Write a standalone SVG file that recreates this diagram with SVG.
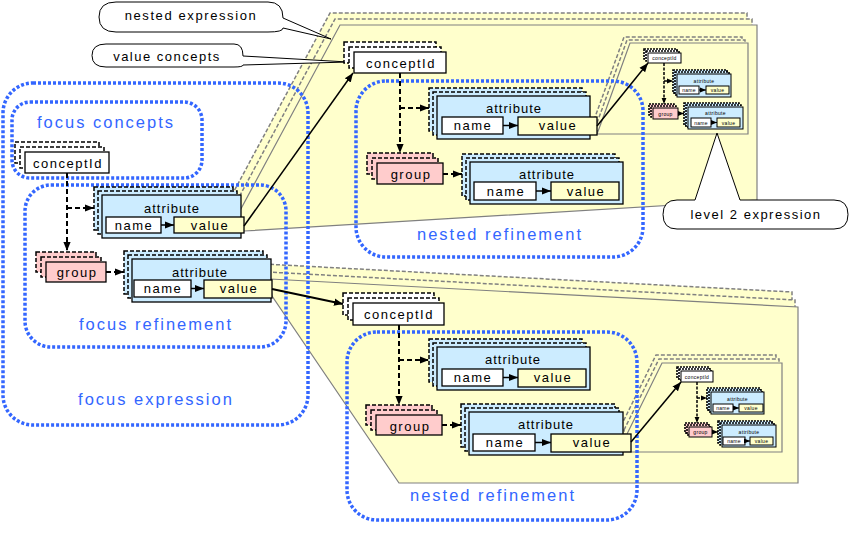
<svg xmlns="http://www.w3.org/2000/svg" width="864" height="549" viewBox="0 0 864 549">
<style>
.panel{fill:#FFFFCC;stroke:#808080;stroke-width:1.2}
.psh{fill:#FFFFCC;stroke:#808080;stroke-width:1.5;stroke-dasharray:4 2}
.blue{fill:none;stroke:#3366FF;stroke-width:3.5;stroke-dasharray:3 2}
.call{fill:#fff;stroke:#000;stroke-width:1}
.f{stroke:#000;stroke-width:1.3}
.sh{stroke:#000;stroke-width:1.5;stroke-dasharray:4 2}
.shs{stroke:#000;stroke-width:1.6;stroke-dasharray:2 1}
.attr{fill:#CCECFF}
.cid,.nm{fill:#fff}
.val{fill:#FFFFCC}
.grp{fill:#FFCCCC}
.t{font-family:"Liberation Sans",Arial,sans-serif;font-size:13px;letter-spacing:1.5px;fill:#000;text-anchor:middle}
.ta{font-family:"Liberation Sans",Arial,sans-serif;font-size:13px;letter-spacing:1px;fill:#000;text-anchor:middle}
.ts{font-family:"Liberation Sans",Arial,sans-serif;font-size:5px;letter-spacing:0.3px;fill:#000;text-anchor:middle}
.bt{font-family:"Liberation Sans",Arial,sans-serif;font-size:16.5px;letter-spacing:2px;fill:#3366FF;text-anchor:middle}
.dc{fill:none;stroke:#000;stroke-width:2;stroke-dasharray:5 3}
.dcs{fill:none;stroke:#000;stroke-width:1.5;stroke-dasharray:3 1.5}
.sc{fill:none;stroke:#000;stroke-width:1.5}
</style>
<defs>
<marker id="ah" viewBox="0 0 10 10" refX="10" refY="5" markerWidth="9" markerHeight="9" markerUnits="userSpaceOnUse" orient="auto"><path d="M0,1 L10,5 L0,9 Z" fill="#000"/></marker>
<marker id="ahs" viewBox="0 0 10 10" refX="10" refY="5" markerWidth="6" markerHeight="6" markerUnits="userSpaceOnUse" orient="auto"><path d="M0,1 L10,5 L0,9 Z" fill="#000"/></marker>
</defs>
<rect width="864" height="549" fill="#fff"/>

<g id="panels">
  <g id="nestedExprTop">
    <polygon class="psh" transform="translate(-10,-12)" points="236,218 340,25 757,25 757,200 244,231"/>
    <polygon class="psh" transform="translate(-5,-6)" points="236,218 340,25 757,25 757,200 244,231"/>
    <polygon class="panel" points="236,218 340,25 757,25 757,200 244,231"/>
  </g>
  <g id="nestedExprBottom">
    <polygon class="psh" transform="translate(-6,-15)" points="270,279 798,307 798,483 399,483 272,296"/>
    <polygon class="psh" transform="translate(-3,-7)" points="270,279 798,307 798,483 399,483 272,296"/>
    <polygon class="panel" points="270,279 798,307 798,483 399,483 272,296"/>
  </g>
  <g id="level2Top">
    <polygon class="psh" transform="translate(-6,-6)" points="600,126 630,43 748,43 748,134 597,134"/>
    <polygon class="psh" transform="translate(-3,-3)" points="600,126 630,43 748,43 748,134 597,134"/>
    <polygon class="panel" points="600,126 630,43 748,43 748,134 597,134"/>
  </g>
  <g id="level2Bottom">
    <polygon class="psh" transform="translate(-6,-8)" points="627,434 662,363 782,363 782,452 631,452"/>
    <polygon class="psh" transform="translate(-3,-4)" points="627,434 662,363 782,363 782,452 631,452"/>
    <polygon class="panel" points="627,434 662,363 782,363 782,452 631,452"/>
  </g>
</g>

<g id="callouts">
  <g id="calloutNested">
    <path class="call" d="M116,2 H268 Q283,2 283,18 L331,39 L283,28 Q283,32 268,32 H116 Q99,32 99,17 Q99,2 116,2 Z"/>
    <text class="t" x="191" y="20" style="letter-spacing:1.6px">nested expression</text>
  </g>
  <g id="calloutValue">
    <path class="call" d="M106,44 H234 Q243,44 243,56 L348,62 L243,65 Q243,67 234,67 H106 Q92,67 92,55.5 Q92,44 106,44 Z"/>
    <text class="t" x="167" y="61">value concepts</text>
  </g>
  <g id="calloutLevel2">
    <path class="call" d="M677,200 L695,200 L717,133 L740,200 L834,200 Q848,200 848,214.5 Q848,229 834,229 L677,229 Q663,229 663,214.5 Q663,200 677,200 Z"/>
    <text class="t" x="756" y="219">level 2 expression</text>
  </g>
</g>

<g id="regions">
  <rect id="focusExpression" class="blue" x="3" y="83" width="305" height="342" rx="30"/>
  <rect id="focusConcepts" class="blue" x="12" y="102" width="190" height="76" rx="18"/>
  <rect id="focusRefinement" class="blue" x="25" y="185" width="261" height="162" rx="26"/>
  <rect id="nestedRefinementTop" class="blue" x="356" y="81" width="287" height="176" rx="30"/>
  <rect id="nestedRefinementBottom" class="blue" x="347" y="332" width="290" height="188" rx="30"/>
  <text class="bt" x="106" y="128">focus concepts</text>
  <text class="bt" x="156" y="330">focus refinement</text>
  <text class="bt" x="156" y="405">focus expression</text>
  <text class="bt" x="500" y="240">nested refinement</text>
  <text class="bt" x="493" y="501">nested refinement</text>
</g>

<g id="cid0">
  <rect class="cid sh" x="15" y="142" width="84" height="21"/>
  <rect class="cid sh" x="20" y="147" width="84" height="21"/>
  <rect class="cid f" x="25" y="152" width="84" height="21"/>
  <text class="t" x="68" y="168">conceptId</text>
</g>
<g id="attr0a">
  <rect class="attr sh" x="94" y="187" width="139" height="43"/>
  <rect class="attr sh" x="98" y="191" width="139" height="43"/>
  <rect class="attr f" x="102" y="195" width="139" height="43"/>
  <text class="ta" x="172" y="213">attribute</text>
  <rect class="nm f" x="106" y="217" width="55" height="16"/>
  <text class="t" x="134" y="230">name</text>
  <rect class="val f" x="174" y="217" width="70" height="16"/>
  <text class="t" x="210" y="230">value</text>
</g>
<g id="grp0">
  <rect class="grp sh" x="36" y="252" width="60" height="20"/>
  <rect class="grp sh" x="41" y="257" width="60" height="20"/>
  <rect class="grp f" x="46" y="262" width="60" height="20"/>
  <text class="t" x="77" y="277">group</text>
</g>
<g id="attr0b">
  <rect class="attr sh" x="124" y="251" width="139" height="43"/>
  <rect class="attr sh" x="128" y="255" width="139" height="43"/>
  <rect class="attr f" x="132" y="259" width="139" height="43"/>
  <text class="ta" x="200" y="277">attribute</text>
  <rect class="nm f" x="134" y="280" width="57" height="17"/>
  <text class="t" x="163" y="293">name</text>
  <rect class="val f" x="204" y="280" width="68" height="18"/>
  <text class="t" x="239" y="293">value</text>
</g>

<g id="cid1">
  <rect class="cid sh" x="344" y="42" width="92" height="21"/>
  <rect class="cid sh" x="349" y="47" width="92" height="21"/>
  <rect class="cid f" x="354" y="52" width="92" height="21"/>
  <text class="t" x="401" y="68">conceptId</text>
</g>
<g id="attr1a">
  <rect class="attr sh" x="429" y="88" width="153" height="43"/>
  <rect class="attr sh" x="433" y="92" width="153" height="43"/>
  <rect class="attr f" x="437" y="96" width="153" height="43"/>
  <text class="ta" x="514" y="113">attribute</text>
  <rect class="nm f" x="442" y="117" width="61" height="17"/>
  <text class="t" x="473" y="130">name</text>
  <rect class="val f" x="518" y="117" width="79" height="18"/>
  <text class="t" x="558" y="130">value</text>
</g>
<g id="grp1">
  <rect class="grp sh" x="367" y="153" width="66" height="21"/>
  <rect class="grp sh" x="372" y="158" width="66" height="21"/>
  <rect class="grp f" x="377" y="163" width="66" height="21"/>
  <text class="t" x="411" y="179">group</text>
</g>
<g id="attr1b">
  <rect class="attr sh" x="462" y="154" width="153" height="42"/>
  <rect class="attr sh" x="466" y="158" width="153" height="42"/>
  <rect class="attr f" x="470" y="162" width="153" height="42"/>
  <text class="ta" x="547" y="179">attribute</text>
  <rect class="nm f" x="474" y="182" width="62" height="18"/>
  <text class="t" x="506" y="196">name</text>
  <rect class="val f" x="551" y="182" width="68" height="18"/>
  <text class="t" x="586" y="196">value</text>
</g>

<g id="cid2">
  <rect class="cid sh" x="343" y="293" width="91" height="22"/>
  <rect class="cid sh" x="348" y="298" width="91" height="22"/>
  <rect class="cid f" x="353" y="303" width="91" height="22"/>
  <text class="t" x="399" y="319">conceptId</text>
</g>
<g id="attr2a">
  <rect class="attr sh" x="429" y="339" width="153" height="43"/>
  <rect class="attr sh" x="433" y="343" width="153" height="43"/>
  <rect class="attr f" x="437" y="347" width="153" height="43"/>
  <text class="ta" x="513" y="364">attribute</text>
  <rect class="nm f" x="442" y="369" width="61" height="17"/>
  <text class="t" x="473" y="382">name</text>
  <rect class="val f" x="518" y="369" width="68" height="18"/>
  <text class="t" x="553" y="382">value</text>
</g>
<g id="grp2">
  <rect class="grp sh" x="366" y="405" width="66" height="20"/>
  <rect class="grp sh" x="371" y="410" width="66" height="20"/>
  <rect class="grp f" x="376" y="415" width="66" height="20"/>
  <text class="t" x="410" y="431">group</text>
</g>
<g id="attr2b">
  <rect class="attr sh" x="461" y="404" width="154" height="43"/>
  <rect class="attr sh" x="465" y="408" width="154" height="43"/>
  <rect class="attr f" x="469" y="412" width="154" height="43"/>
  <text class="ta" x="546" y="429">attribute</text>
  <rect class="nm f" x="473" y="434" width="62" height="17"/>
  <text class="t" x="505" y="447">name</text>
  <rect class="val f" x="551" y="434" width="80" height="18"/>
  <text class="t" x="592" y="447">value</text>
</g>

<g id="cid3">
  <rect class="cid shs" x="644" y="49" width="33" height="10"/>
  <rect class="cid shs" x="646" y="51" width="33" height="10"/>
  <rect class="cid f" x="648" y="53" width="33" height="10" style="stroke-width:1"/>
  <text class="ts" x="664.5" y="60">conceptId</text>
</g>
<g id="attr3a">
  <rect class="attr shs" x="673" y="70" width="54" height="23"/>
  <rect class="attr shs" x="675" y="72" width="54" height="23"/>
  <rect class="attr f" x="677" y="74" width="54" height="23" style="stroke-width:1"/>
  <text class="ts" x="704" y="83">attribute</text>
  <rect class="nm f" x="679" y="86" width="20" height="8" style="stroke-width:1"/>
  <text class="ts" x="689" y="92">name</text>
  <rect class="val f" x="706" y="86" width="23" height="8" style="stroke-width:1"/>
  <text class="ts" x="717.5" y="92">value</text>
</g>
<g id="grp3">
  <rect class="grp shs" x="649" y="104" width="25" height="11"/>
  <rect class="grp shs" x="651" y="106" width="25" height="11"/>
  <rect class="grp f" x="653" y="108" width="25" height="11" style="stroke-width:1"/>
  <text class="ts" x="665.5" y="115.5">group</text>
</g>
<g id="attr3b">
  <rect class="attr shs" x="684" y="103" width="55" height="22"/>
  <rect class="attr shs" x="686" y="105" width="55" height="22"/>
  <rect class="attr f" x="688" y="107" width="55" height="22" style="stroke-width:1"/>
  <text class="ts" x="715.5" y="115">attribute</text>
  <rect class="nm f" x="691" y="118" width="20" height="9" style="stroke-width:1"/>
  <text class="ts" x="701" y="124.5">name</text>
  <rect class="val f" x="717" y="118" width="23" height="9" style="stroke-width:1"/>
  <text class="ts" x="728.5" y="124.5">value</text>
</g>

<g id="cid4">
  <rect class="cid shs" x="677" y="367" width="32" height="11"/>
  <rect class="cid shs" x="679" y="369" width="32" height="11"/>
  <rect class="cid f" x="681" y="371" width="32" height="11" style="stroke-width:1"/>
  <text class="ts" x="697" y="378.5">conceptId</text>
</g>
<g id="attr4a">
  <rect class="attr shs" x="707" y="388" width="53" height="22"/>
  <rect class="attr shs" x="709" y="390" width="53" height="22"/>
  <rect class="attr f" x="711" y="392" width="53" height="22" style="stroke-width:1"/>
  <text class="ts" x="737.5" y="400.5">attribute</text>
  <rect class="nm f" x="713" y="404" width="20" height="8" style="stroke-width:1"/>
  <text class="ts" x="723" y="410">name</text>
  <rect class="val f" x="739" y="404" width="24" height="8" style="stroke-width:1"/>
  <text class="ts" x="751" y="410">value</text>
</g>
<g id="grp4">
  <rect class="grp shs" x="685" y="423" width="23" height="10"/>
  <rect class="grp shs" x="687" y="425" width="23" height="10"/>
  <rect class="grp f" x="689" y="427" width="23" height="10" style="stroke-width:1"/>
  <text class="ts" x="700.5" y="434">group</text>
</g>
<g id="attr4b">
  <rect class="attr shs" x="718" y="421" width="54" height="22"/>
  <rect class="attr shs" x="720" y="423" width="54" height="22"/>
  <rect class="attr f" x="722" y="425" width="54" height="22" style="stroke-width:1"/>
  <text class="ts" x="749" y="433.5">attribute</text>
  <rect class="nm f" x="723" y="437" width="22" height="8" style="stroke-width:1"/>
  <text class="ts" x="734" y="443">name</text>
  <rect class="val f" x="750" y="437" width="23" height="8" style="stroke-width:1"/>
  <text class="ts" x="761.5" y="443">value</text>
</g>

<g id="connectors">
  <path class="dc" d="M67,173 V251" marker-end="url(#ah)"/>
  <path class="dc" d="M67,208 H94" marker-end="url(#ah)"/>
  <path class="dc" d="M106,272 H124" marker-end="url(#ah)"/>
  <path class="sc" d="M161,225 H174" marker-end="url(#ah)"/>
  <path class="sc" d="M191,288.5 H204" marker-end="url(#ah)"/>
  <path class="sc" d="M244,226 L353,73" marker-end="url(#ah)"/>
  <path class="sc" d="M272,289 L343,304" style="stroke-width:2.2" marker-end="url(#ah)"/>

  <path class="dc" d="M400,73 V153" marker-end="url(#ah)"/>
  <path class="dc" d="M400,108 H429" marker-end="url(#ah)"/>
  <path class="dc" d="M443,174 H462" marker-end="url(#ah)"/>
  <path class="sc" d="M503,125.5 H518" marker-end="url(#ah)"/>
  <path class="sc" d="M536,191 H551" marker-end="url(#ah)"/>
  <path class="sc" d="M597,126 L648,63" marker-end="url(#ah)"/>

  <path class="dc" d="M399,325 V405" marker-end="url(#ah)"/>
  <path class="dc" d="M399,360 H429" marker-end="url(#ah)"/>
  <path class="dc" d="M442,425 H461" marker-end="url(#ah)"/>
  <path class="sc" d="M503,377.5 H518" marker-end="url(#ah)"/>
  <path class="sc" d="M535,442.5 H551" marker-end="url(#ah)"/>
  <path class="sc" d="M631,442 L681,382" marker-end="url(#ah)"/>

  <path class="dcs" d="M664,63 V104" marker-end="url(#ahs)"/>
  <path class="dcs" d="M664,81 H673" marker-end="url(#ahs)"/>
  <path class="dcs" d="M678,113.5 H684" marker-end="url(#ahs)"/>
  <path class="sc" d="M699,90 H706" style="stroke-width:1" marker-end="url(#ahs)"/>
  <path class="sc" d="M711,122.5 H717" style="stroke-width:1" marker-end="url(#ahs)"/>

  <path class="dcs" d="M697,382 V423" marker-end="url(#ahs)"/>
  <path class="dcs" d="M697,398 H707" marker-end="url(#ahs)"/>
  <path class="dcs" d="M712,432 H718" marker-end="url(#ahs)"/>
  <path class="sc" d="M733,408 H739" style="stroke-width:1" marker-end="url(#ahs)"/>
  <path class="sc" d="M745,441 H750" style="stroke-width:1" marker-end="url(#ahs)"/>
</g>
</svg>
